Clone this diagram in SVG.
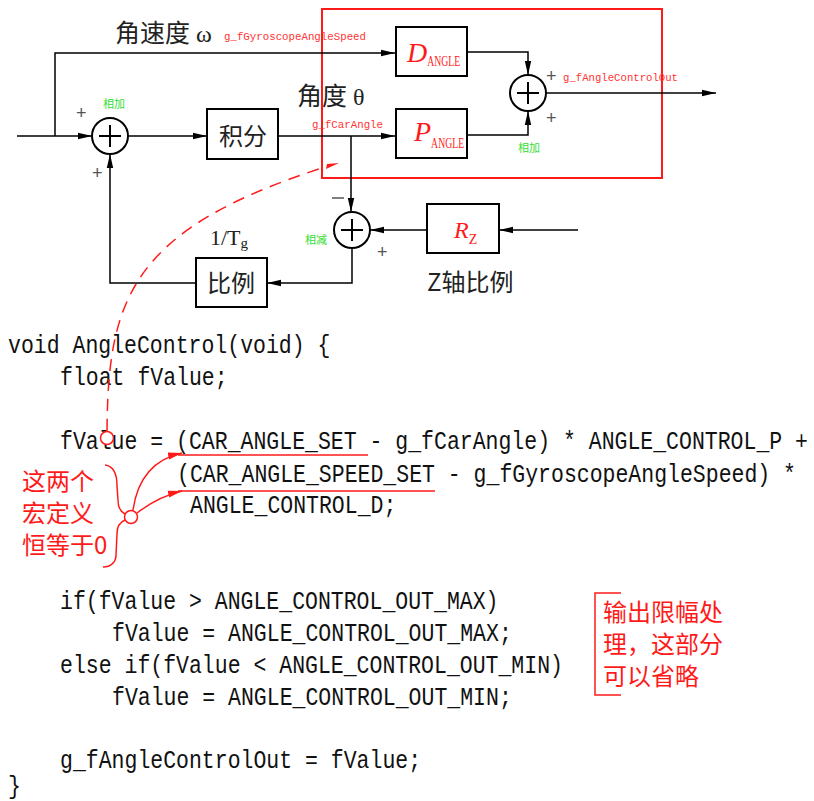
<svg xmlns="http://www.w3.org/2000/svg" width="814" height="801" viewBox="0 0 814 801">
<style>
.ln{stroke:#000;stroke-width:1.5;fill:none}
.box{stroke:#000;stroke-width:2;fill:#fff}
.sum{stroke:#000;stroke-width:2;fill:#fff}
.cross{stroke:#000;stroke-width:2}
.cjk{font-family:"Noto Sans CJK SC","Noto Sans",sans-serif;fill:#222}
.sign{font-family:"Liberation Sans",sans-serif;font-size:18px;fill:#555}
.grn{font-family:"Noto Sans CJK SC",sans-serif;font-size:11px;fill:#33dd33}
.var{font-family:"Liberation Mono",monospace;font-size:10.7px;fill:#ff3333}
.code{font-family:"Liberation Mono",monospace;font-size:26px;fill:#111}
.rnote{font-family:"Noto Sans CJK SC",sans-serif;font-size:24px;fill:#ff1a1a}
.ital{font-family:"Liberation Serif",serif;font-style:italic;fill:#ff1a1a}
.sub{font-family:"Liberation Serif",serif;font-style:normal;fill:#ff1a1a}
.red{stroke:#ff1a1a;stroke-width:1.5;fill:none}
</style>
<defs>
<marker id="ah" viewBox="0 0 14 8" refX="14" refY="4" markerWidth="14" markerHeight="8" markerUnits="userSpaceOnUse" orient="auto">
<path d="M0,0.8 L14,4 L0,7.2 Z" fill="#000"/>
</marker>
<marker id="rah" viewBox="0 0 14 8" refX="14" refY="4" markerWidth="14" markerHeight="8" markerUnits="userSpaceOnUse" orient="auto">
<path d="M0,0.5 L14,4 L0,7.5 Z" fill="#ff1a1a"/>
</marker>
</defs>
<rect width="814" height="801" fill="#fff"/>

<rect id="redframe" x="322" y="9" width="340" height="169" fill="none" stroke="#ff1a1a" stroke-width="2"/>

<g id="connectors">
<path class="ln" d="M17,136 H92" marker-end="url(#ah)"/>
<path class="ln" d="M55,136 V53 H395" marker-end="url(#ah)"/>
<path class="ln" d="M128,136 H207" marker-end="url(#ah)"/>
<path class="ln" d="M278,136 H395" marker-end="url(#ah)"/>
<path class="ln" d="M351,136 V212" marker-end="url(#ah)"/>
<path class="ln" d="M467,52 H528 V75" marker-end="url(#ah)"/>
<path class="ln" d="M467,135 H528 V111" marker-end="url(#ah)"/>
<path class="ln" d="M546,93 H716" marker-end="url(#ah)"/>
<path class="ln" d="M578,230 H499" marker-end="url(#ah)"/>
<path class="ln" d="M427,230 H370" marker-end="url(#ah)"/>
<path class="ln" d="M352,248 V283 H267" marker-end="url(#ah)"/>
<path class="ln" d="M196,283 H110 V154" marker-end="url(#ah)"/>
</g>

<g id="sum1">
<circle class="sum" cx="110" cy="136" r="18"/>
<path class="cross" d="M99,136 H121 M110,125 V147"/>
</g>
<g id="sum2">
<circle class="sum" cx="528" cy="93" r="18"/>
<path class="cross" d="M517,93 H539 M528,82 V104"/>
</g>
<g id="sum3">
<circle class="sum" cx="352" cy="230" r="18"/>
<path class="cross" d="M341,230 H363 M352,219 V241"/>
</g>

<g id="integ">
<rect class="box" x="207" y="109" width="71" height="50"/>
<text class="cjk" x="243" y="145" font-size="24" text-anchor="middle">积分</text>
</g>
<g id="dangle">
<rect class="box" x="396" y="27" width="71" height="49"/>
<text class="ital" x="407" y="62" font-size="28">D<tspan class="sub" font-size="14" dy="4" textLength="33" lengthAdjust="spacingAndGlyphs">ANGLE</tspan></text>
</g>
<g id="pangle">
<rect class="box" x="396" y="109" width="71" height="49"/>
<text class="ital" x="414" y="141" font-size="28">P<tspan class="sub" font-size="14" dy="7" textLength="33" lengthAdjust="spacingAndGlyphs">ANGLE</tspan></text>
</g>
<g id="rz">
<rect class="box" x="427" y="204" width="72" height="49"/>
<text class="ital" x="454" y="238" font-size="24">R<tspan class="sub" font-size="14" dy="6">Z</tspan></text>
</g>
<g id="bili">
<rect class="box" x="196" y="258" width="71" height="49"/>
<text class="cjk" x="231" y="292" font-size="24" text-anchor="middle">比例</text>
</g>

<g id="labels">
<text class="cjk" x="115" y="42" font-size="25">角速度</text>
<text x="196" y="42" font-family="Liberation Serif,serif" font-size="24" fill="#222">ω</text>
<text class="cjk" x="297" y="105" font-size="25">角度</text>
<text x="353" y="105" font-family="Liberation Serif,serif" font-size="24" fill="#222">θ</text>
<text x="210" y="245" font-family="Liberation Serif,serif" font-size="22" fill="#222">1/T<tspan font-size="15" dy="3">g</tspan></text>
<text class="cjk" x="427" y="291" font-size="24">Z轴比例</text>
<text class="var" x="224" y="40" textLength="142" lengthAdjust="spacingAndGlyphs">g_fGyroscopeAngleSpeed</text>
<text class="var" x="312" y="128" textLength="71" lengthAdjust="spacingAndGlyphs">g_fCarAngle</text>
<text class="var" x="563" y="81" textLength="115" lengthAdjust="spacingAndGlyphs">g_fAngleControlOut</text>
<text class="grn" x="103" y="108">相加</text>
<text class="grn" x="518" y="152">相加</text>
<text class="grn" x="305" y="244">相减</text>
<text class="sign" x="76" y="119">+</text>
<text class="sign" x="92" y="179">+</text>
<text class="sign" x="546" y="82">+</text>
<text class="sign" x="546" y="124">+</text>
<text class="sign" x="377" y="258">+</text>
<path d="M332,198 H344" stroke="#555" stroke-width="1.5"/>
</g>

<g id="code">
<text class="code" transform="translate(8,353) scale(0.827,1)">void AngleControl(void) {</text>
<text class="code" transform="translate(60,385) scale(0.827,1)">float fValue;</text>
<text class="code" transform="translate(60,449) scale(0.827,1)">fValue = (CAR_ANGLE_SET - g_fCarAngle) * ANGLE_CONTROL_P +</text>
<text class="code" transform="translate(177,482) scale(0.827,1)">(CAR_ANGLE_SPEED_SET - g_fGyroscopeAngleSpeed) *</text>
<text class="code" transform="translate(190,513) scale(0.827,1)">ANGLE_CONTROL_D;</text>
<text class="code" transform="translate(60,609) scale(0.827,1)">if(fValue &gt; ANGLE_CONTROL_OUT_MAX)</text>
<text class="code" transform="translate(112,641) scale(0.827,1)">fValue = ANGLE_CONTROL_OUT_MAX;</text>
<text class="code" transform="translate(60,673) scale(0.827,1)">else if(fValue &lt; ANGLE_CONTROL_OUT_MIN)</text>
<text class="code" transform="translate(112,705) scale(0.827,1)">fValue = ANGLE_CONTROL_OUT_MIN;</text>
<text class="code" transform="translate(60,768) scale(0.827,1)">g_fAngleControlOut = fValue;</text>
<text class="code" transform="translate(8,794) scale(0.827,1)">}</text>
</g>

<g id="annotations">
<path class="red" d="M107,431 C108,300 130,230 322,168" stroke-dasharray="12,8"/>
<polygon points="326,169 327,164 339,163" fill="#ff1a1a"/>
<circle cx="107" cy="438" r="6.5" fill="#fff" stroke="#ff1a1a" stroke-width="1.5"/>
<path class="red" d="M178,455 H368 M178,491 H435"/>
<path class="red" d="M105,465 C114,466 117,474 117,486 L118,500 C118,508 121,512 125,514 M125,520 C120,522 117,526 117,534 L116,555 C116,562 111,567 103,567"/>
<circle cx="131" cy="517" r="6.5" fill="#fff" stroke="#ff1a1a" stroke-width="1.5"/>
<path class="red" d="M133,510 C137,482 150,460 182,453" marker-end="url(#rah)"/>
<path class="red" d="M137,513 C150,503 165,495 182,491" marker-end="url(#rah)"/>
<text class="rnote" x="22" y="490">这两个<tspan x="22" dy="32">宏定义</tspan><tspan x="22" dy="32">恒等于0</tspan></text>
<path class="red" d="M621,593 H595 V695 H621"/>
<text class="rnote" x="603" y="621" font-size="23">输出限幅处<tspan x="603" dy="32">理，这部分</tspan><tspan x="603" dy="32">可以省略</tspan></text>
</g>
</svg>
